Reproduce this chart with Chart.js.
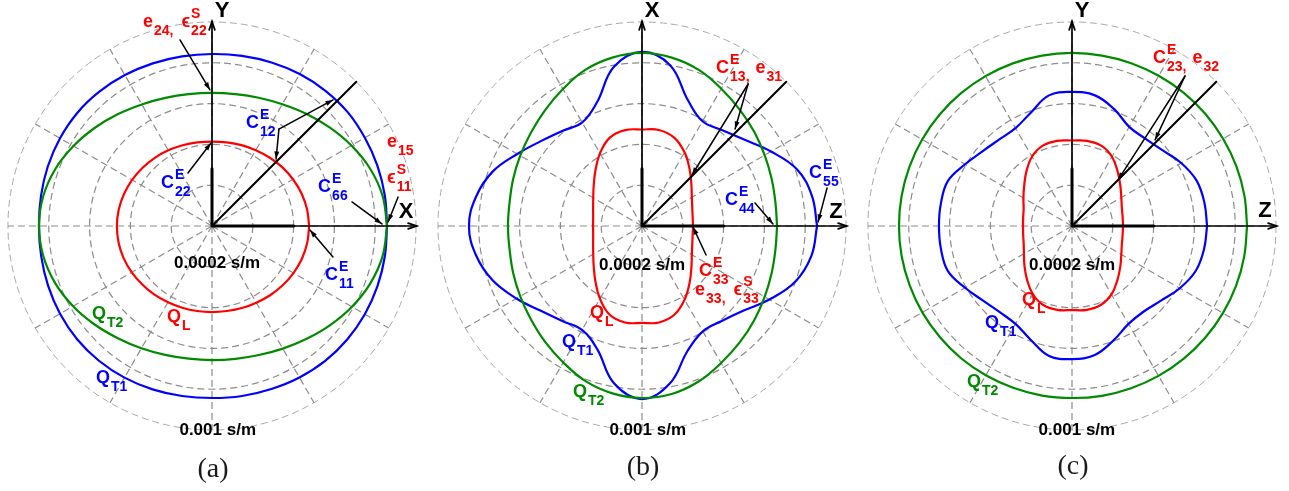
<!DOCTYPE html>
<html>
<head>
<meta charset="utf-8">
<script src="https://cdn.jsdelivr.net/npm/chart.js@4.4.0/dist/chart.umd.min.js"></script>
<style>
  html, body { margin: 0; padding: 0; background: #fff; }
  #wrap { position: relative; width: 1289px; height: 491px; overflow: hidden; }
  .panel { position: absolute; top: 0; width: 430px; height: 491px; }
</style>
</head>
<body>
<div id="wrap">
  <div class="panel" style="left:0"><canvas id="chartA" width="430" height="491"></canvas></div>
  <div class="panel" style="left:430px"><canvas id="chartB" width="430" height="491"></canvas></div>
  <div class="panel" style="left:860px"><canvas id="chartC" width="430" height="491"></canvas></div>
</div>
<script>
// direction of each slowness sample, degrees from the horizontal axis, counter-clockwise
const angles = [0, 10, 20, 30, 40, 50, 60, 70, 80, 90, 100, 110, 120, 130, 140, 150, 160, 170,
  180, 190, 200, 210, 220, 230, 240, 250, 260, 270, 280, 290, 300, 310, 320, 330, 340, 350];

// polar grid (s/m) and spoke directions
const rings = [0.0002, 0.0004, 0.0006, 0.0008, 0.001];
const spokes = [0, 30, 60, 90, 120, 150, 180, 210, 240, 270, 300, 330];
const tickLabels = ['0.0002 s/m', '0.001 s/m'];
const captions = ['(a)', '(b)', '(c)'];

// slowness (s/m), panel (a): X-Y plane
const aQL = [0.000476, 0.000473, 0.000467, 0.000458, 0.000449, 0.000438, 0.000429, 0.000422, 0.000416,
  0.000414, 0.000416, 0.000421, 0.000428, 0.000436, 0.000444, 0.000452, 0.000459, 0.000464,
  0.000466, 0.000465, 0.000461, 0.000454, 0.000446, 0.000439, 0.000431, 0.000426, 0.000423,
  0.000422, 0.000423, 0.000428, 0.000434, 0.000443, 0.000452, 0.000461, 0.000469, 0.000474];
const aQT1 = [0.000858, 0.000860, 0.000863, 0.000865, 0.000868, 0.000865, 0.000860, 0.000853, 0.000847,
  0.000843, 0.000844, 0.000848, 0.000854, 0.000859, 0.000862, 0.000860, 0.000856, 0.000851,
  0.000848, 0.000850, 0.000855, 0.000860, 0.000863, 0.000862, 0.000858, 0.000852, 0.000846,
  0.000843, 0.000846, 0.000850, 0.000857, 0.000863, 0.000865, 0.000865, 0.000863, 0.000860];
const aQT2 = [0.000858, 0.000849, 0.000824, 0.000789, 0.000752, 0.000718, 0.000689, 0.000669, 0.000656,
  0.000652, 0.000656, 0.000668, 0.000688, 0.000716, 0.000749, 0.000784, 0.000817, 0.000840,
  0.000848, 0.000840, 0.000818, 0.000786, 0.000751, 0.000718, 0.000692, 0.000672, 0.000660,
  0.000657, 0.000661, 0.000673, 0.000694, 0.000722, 0.000756, 0.000792, 0.000825, 0.000849];

// panel (b): Z-X plane
const bQL = [0.000250, 0.000252, 0.000262, 0.000282, 0.000316, 0.000363, 0.000417, 0.000461, 0.000478,
  0.000473, 0.000477, 0.000461, 0.000412, 0.000355, 0.000309, 0.000276, 0.000255, 0.000243,
  0.000240, 0.000243, 0.000255, 0.000276, 0.000309, 0.000355, 0.000412, 0.000463, 0.000480,
  0.000475, 0.000480, 0.000463, 0.000417, 0.000363, 0.000316, 0.000282, 0.000262, 0.000252];
const bQT1 = [0.000858, 0.000846, 0.000809, 0.000730, 0.000657, 0.000613, 0.000593, 0.000657, 0.000799,
  0.000853, 0.000792, 0.000645, 0.000586, 0.000608, 0.000647, 0.000706, 0.000779, 0.000826,
  0.000848, 0.000826, 0.000779, 0.000711, 0.000647, 0.000608, 0.000588, 0.000642, 0.000784,
  0.000848, 0.000784, 0.000652, 0.000596, 0.000608, 0.000647, 0.000721, 0.000799, 0.000843];
const bQT2 = [0.000662, 0.000664, 0.000676, 0.000694, 0.000718, 0.000745, 0.000777, 0.000814, 0.000838,
  0.000848, 0.000838, 0.000814, 0.000775, 0.000740, 0.000711, 0.000689, 0.000672, 0.000659,
  0.000657, 0.000659, 0.000672, 0.000689, 0.000711, 0.000740, 0.000772, 0.000809, 0.000833,
  0.000843, 0.000836, 0.000811, 0.000775, 0.000745, 0.000718, 0.000694, 0.000676, 0.000664];

// panel (c): Z-Y plane
const cQL = [0.000250, 0.000252, 0.000260, 0.000279, 0.000309, 0.000348, 0.000392, 0.000419, 0.000424,
  0.000419, 0.000424, 0.000419, 0.000392, 0.000348, 0.000306, 0.000275, 0.000252, 0.000243,
  0.000240, 0.000243, 0.000252, 0.000272, 0.000304, 0.000343, 0.000385, 0.000412, 0.000417,
  0.000412, 0.000417, 0.000412, 0.000387, 0.000346, 0.000309, 0.000279, 0.000260, 0.000252];
const cQT1 = [0.000662, 0.000659, 0.000650, 0.000618, 0.000578, 0.000559, 0.000561, 0.000608, 0.000650,
  0.000657, 0.000650, 0.000591, 0.000554, 0.000554, 0.000571, 0.000605, 0.000647, 0.000652,
  0.000652, 0.000652, 0.000647, 0.000605, 0.000569, 0.000551, 0.000554, 0.000593, 0.000647,
  0.000652, 0.000642, 0.000596, 0.000554, 0.000547, 0.000569, 0.000610, 0.000645, 0.000657];
const cQT2 = [0.000858, 0.000858, 0.000857, 0.000855, 0.000854, 0.000852, 0.000850, 0.000849, 0.000848,
  0.000848, 0.000848, 0.000848, 0.000848, 0.000848, 0.000848, 0.000848, 0.000848, 0.000848,
  0.000848, 0.000848, 0.000847, 0.000847, 0.000846, 0.000846, 0.000845, 0.000844, 0.000844,
  0.000843, 0.000845, 0.000846, 0.000848, 0.000850, 0.000852, 0.000854, 0.000856, 0.000857];

const RED = '#ff0000', GREEN = '#008a00', BLUE = '#0000ff';
const BIG = 'bold 18px "Liberation Sans", Arial, "DejaVu Sans", sans-serif';
const SMALL = 'bold 14px "Liberation Sans", Arial, "DejaVu Sans", sans-serif';

// annotations, in data coordinates (s/m)
const panels = [
  {
    id: 'chartA', hName: 'X', vName: 'Y', curves: [[aQT2, GREEN], [aQT1, BLUE], [aQL, RED]],
    hPos: [0.000951, 0.000069], vPos: [0.000049, 0.001054],
    ticks: [[0.000025, -0.000181], [0.000028, -0.001002]], caption: [0.000005, -0.001196],
    labels: [
      [-0.000338, 0.000975, RED, ['e', {sub: '24,'}, 8, 'ϵ', {sup: 'S', sub: '22'}]],
      [-0.000250, 0.000186, BLUE, ['C', {sup: 'E', sub: '22'}]],
      [0.000167, 0.000480, BLUE, ['C', {sup: 'E', sub: '12'}]],
      [0.000858, 0.000387, RED, ['e', {sub: '15'}]],
      [0.000858, 0.000211, RED, ['ϵ', {sup: 'S', sub: '11'}]],
      [0.000520, 0.000167, BLUE, ['C', {sup: 'E', sub: '66'}]],
      [0.000554, -0.000265, BLUE, ['C', {sup: 'E', sub: '11'}]],
      [-0.000221, -0.000471, RED, ['Q', {sub: 'L'}]],
      [-0.000588, -0.000456, GREEN, ['Q', {sub: 'T2'}]],
      [-0.000569, -0.000770, BLUE, ['Q', {sub: 'T1'}]]
    ],
    arrows: [
      [-0.000157, 0.000912, -0.000010, 0.000667],
      [-0.000118, 0.000260, -0.000005, 0.000407],
      [0.000328, 0.000475, 0.000593, 0.000618],
      [0.000328, 0.000475, 0.000314, 0.000328],
      [0.000912, 0.000142, 0.000863, 0.000020],
      [0.000686, 0.000118, 0.000833, 0.000010],
      [0.000593, -0.000152, 0.000480, -0.000020]
    ]
  },
  {
    id: 'chartB', hName: 'Z', vName: 'X', curves: [[bQT2, GREEN], [bQT1, BLUE], [bQL, RED]],
    hPos: [0.000951, 0.000069], vPos: [0.000049, 0.001054],
    ticks: [[0, -0.000191], [0.000028, -0.001002]], caption: [0.000005, -0.001186],
    labels: [
      [0.000363, 0.000750, RED, ['C', {sup: 'E', sub: '13,'}, 6, 'e', {sub: '31'}]],
      [0.000819, 0.000235, BLUE, ['C', {sup: 'E', sub: '55'}]],
      [0.000407, 0.000103, BLUE, ['C', {sup: 'E', sub: '44'}]],
      [0.000279, -0.000245, RED, ['C', {sup: 'E', sub: '33'}]],
      [0.000260, -0.000338, RED, ['e', {sub: '33,'}, 8, 'ϵ', {sup: 'S', sub: '33'}]],
      [-0.000255, -0.000451, RED, ['Q', {sub: 'L'}]],
      [-0.000392, -0.000593, BLUE, ['Q', {sub: 'T1'}]],
      [-0.000338, -0.000838, GREEN, ['Q', {sub: 'T2'}]]
    ],
    arrows: [
      [0.000520, 0.000696, 0.000245, 0.000250],
      [0.000520, 0.000696, 0.000456, 0.000475],
      [0.000907, 0.000186, 0.000863, 0.000020],
      [0.000554, 0.000113, 0.000642, 0.000010],
      [0.000314, -0.000142, 0.000250, -0.000005]
    ]
  },
  {
    id: 'chartC', hName: 'Z', vName: 'Y', curves: [[cQT2, GREEN], [cQT1, BLUE], [cQL, RED]],
    hPos: [0.000946, 0.000074], vPos: [0.000049, 0.001054],
    ticks: [[0, -0.000191], [0.000024, -0.001002]], caption: [0.000005, -0.001181],
    labels: [
      [0.000397, 0.000799, RED, ['C', {sup: 'E', sub: '23,'}, 6, 'e', {sub: '32'}]],
      [-0.000245, -0.000387, RED, ['Q', {sub: 'L'}]],
      [-0.000426, -0.000500, BLUE, ['Q', {sub: 'T1'}]],
      [-0.000515, -0.000789, GREEN, ['Q', {sub: 'T2'}]]
    ],
    arrows: [
      [0.000554, 0.000735, 0.000225, 0.000225],
      [0.000554, 0.000735, 0.000407, 0.000422]
    ]
  }
];

function drawRich(ctx, x, y, parts, color) {
  ctx.fillStyle = color;
  ctx.textAlign = 'left';
  ctx.textBaseline = 'alphabetic';
  let cx = x;
  parts.forEach(p => {
    if (typeof p === 'number') {
      cx += p;
    } else if (typeof p === 'string') {
      ctx.font = BIG;
      ctx.fillText(p, cx, y);
      cx += ctx.measureText(p).width + 1;
    } else {
      ctx.font = SMALL;
      let w = 0;
      if (p.sup) { ctx.fillText(p.sup, cx, y - 9); w = ctx.measureText(p.sup).width; }
      if (p.sub) { ctx.fillText(p.sub, cx, y + 8); w = Math.max(w, ctx.measureText(p.sub).width); }
      cx += w;
    }
  });
}

function arrow(ctx, x1, y1, x2, y2, head, open) {
  ctx.beginPath();
  ctx.moveTo(x1, y1);
  ctx.lineTo(x2, y2);
  ctx.stroke();
  const a = Math.atan2(y2 - y1, x2 - x1);
  ctx.beginPath();
  ctx.moveTo(x2 - head * Math.cos(a - 0.32), y2 - head * Math.sin(a - 0.32));
  ctx.lineTo(x2, y2);
  ctx.lineTo(x2 - head * Math.cos(a + 0.32), y2 - head * Math.sin(a + 0.32));
  if (open) { ctx.stroke(); } else { ctx.closePath(); ctx.fill(); }
}

function decor(cfg, caption) {
  return {
    id: 'decor',
    beforeDatasetsDraw(chart) {
      const { ctx, scales: { x, y } } = chart;
      const cx = x.getPixelForValue(0), cy = y.getPixelForValue(0);
      const rMax = rings[rings.length - 1];
      ctx.save();
      ctx.setLineDash([7, 4]);
      rings.forEach((r, i) => {
        const outer = i === rings.length - 1;
        ctx.strokeStyle = outer ? '#a8a8a8' : '#8c8c8c';
        ctx.lineWidth = outer ? 1 : 1.2;
        ctx.beginPath();
        ctx.arc(cx, cy, x.getPixelForValue(r) - cx, 0, Math.PI * 2);
        ctx.stroke();
      });
      ctx.strokeStyle = '#8c8c8c';
      ctx.lineWidth = 1.2;
      spokes.forEach(a => {
        const t = a * Math.PI / 180;
        ctx.beginPath();
        ctx.moveTo(cx, cy);
        ctx.lineTo(x.getPixelForValue(rMax * Math.cos(t)), y.getPixelForValue(rMax * Math.sin(t)));
        ctx.stroke();
      });
      ctx.restore();
    },
    afterDatasetsDraw(chart) {
      const { ctx, scales: { x, y } } = chart;
      const X = v => x.getPixelForValue(v), Y = v => y.getPixelForValue(v);
      const cx = X(0), cy = Y(0);
      const rMax = rings[rings.length - 1];
      ctx.save();
      ctx.strokeStyle = '#000';
      ctx.fillStyle = '#000';
      ctx.lineCap = 'round';
      // axes
      ctx.lineWidth = 1.7;
      arrow(ctx, cx, cy, X(rMax * 1.003), cy, 9, true);
      arrow(ctx, cx, cy, cx, Y(rMax * 1.003), 9, true);
      ctx.lineWidth = 3;
      ctx.beginPath();
      ctx.moveTo(cx, cy); ctx.lineTo(X(rings[1]), cy);
      ctx.moveTo(cx, cy); ctx.lineTo(cx, Y(0.00028));
      ctx.stroke();
      // 45 degree direction
      ctx.lineWidth = 2;
      ctx.beginPath();
      ctx.moveTo(cx, cy);
      ctx.lineTo(X(rMax * Math.SQRT1_2), Y(rMax * Math.SQRT1_2));
      ctx.stroke();
      // pointer arrows
      ctx.lineWidth = 1.5;
      cfg.arrows.forEach(a => arrow(ctx, X(a[0]), Y(a[1]), X(a[2]), Y(a[3]), 8, false));
      // axis names
      ctx.font = 'bold 22px "Liberation Sans", Arial, sans-serif';
      ctx.textAlign = 'center';
      ctx.textBaseline = 'middle';
      ctx.fillText(cfg.hName, X(cfg.hPos[0]), Y(cfg.hPos[1]));
      ctx.fillText(cfg.vName, X(cfg.vPos[0]), Y(cfg.vPos[1]));
      // ring values
      ctx.font = 'bold 17px "Liberation Sans", Arial, sans-serif';
      tickLabels.forEach((t, i) => ctx.fillText(t, X(cfg.ticks[i][0]), Y(cfg.ticks[i][1])));
      // curve names and constants
      cfg.labels.forEach(l => drawRich(ctx, X(l[0]), Y(l[1]), l[3], l[2]));
      // panel caption
      ctx.fillStyle = '#1a1a1a';
      ctx.font = '28px "Liberation Serif", "Times New Roman", serif';
      ctx.textAlign = 'center';
      ctx.textBaseline = 'middle';
      ctx.fillText(caption, X(cfg.caption[0]), Y(cfg.caption[1]));
      ctx.restore();
    }
  };
}

function curve(r, color) {
  const pts = angles.map((a, i) => ({
    x: r[i] * Math.cos(a * Math.PI / 180),
    y: r[i] * Math.sin(a * Math.PI / 180)
  }));
  pts.push(pts[0]);
  return { data: pts, showLine: true, borderColor: color, borderWidth: 2.2, pointRadius: 0, tension: 0.4, fill: false };
}

panels.forEach((cfg, k) => {
  new Chart(document.getElementById(cfg.id), {
    type: 'scatter',
    data: { datasets: cfg.curves.map(c => curve(c[0], c[1])) },
    options: {
      responsive: false,
      animation: false,
      devicePixelRatio: 1,
      layout: { padding: { left: 0, right: 6, top: 14, bottom: 53 } },
      scales: {
        x: { type: 'linear', min: -0.001039, max: 0.001039, display: false },
        y: { type: 'linear', min: -0.001039, max: 0.001039, display: false }
      },
      plugins: { legend: { display: false }, tooltip: { enabled: false } }
    },
    plugins: [decor(cfg, captions[k])]
  });
});
</script>
</body>
</html>
